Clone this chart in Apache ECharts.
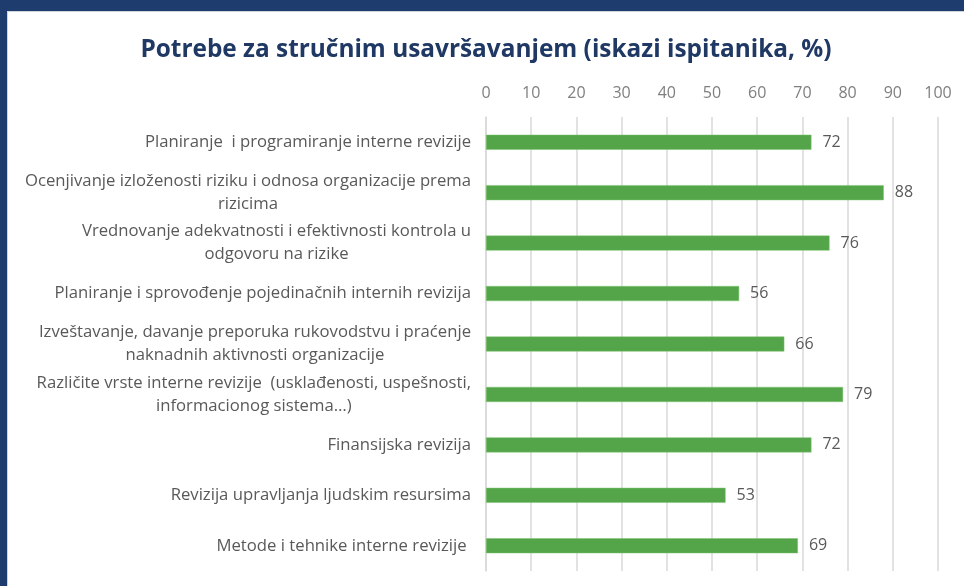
<!DOCTYPE html>
<html>
<head>
<meta charset="utf-8">
<script src="https://cdn.jsdelivr.net/npm/echarts@6/dist/echarts.min.js"></script>
<style>
  html, body { margin: 0; padding: 0; }
  body { width: 964px; height: 586px; background: #1f3c6f; position: relative; overflow: hidden; }
  #main {
    position: absolute; left: 7px; top: 11px;
    width: 956px; height: 574px;
    background: #fff; border-left: 1px solid #cfd3da; border-top: 1px solid #cfd3da;
  }
</style>
</head>
<body>
<div id="main"></div>
<script>
const categories = [
  'Planiranje  i programiranje interne revizije',
  'Ocenjivanje izloženosti riziku i odnosa organizacije prema\nrizicima',
  'Vrednovanje adekvatnosti i efektivnosti kontrola u\nodgovoru na rizike',
  'Planiranje i sprovođenje pojedinačnih internih revizija',
  'Izveštavanje, davanje preporuka rukovodstvu i praćenje\nnaknadnih aktivnosti organizacije',
  'Različite vrste interne revizije  (usklađenosti, uspešnosti,\ninformacionog sistema…)',
  'Finansijska revizija',
  'Revizija upravljanja ljudskim resursima',
  'Metode i tehnike interne revizije '
];
const values = [72, 88, 76, 56, 66, 79, 72, 53, 69];

const chart = echarts.init(document.getElementById('main'));
const option = {
  animation: false,
  title: {
    text: 'Potrebe za stručnim usavršavanjem (iskazi ispitanika, %)',
    left: 'center',
    top: 26,
    padding: 0,
    textStyle: {
      fontFamily: 'Open Sans',
      fontWeight: 'bold',
      fontSize: 24.4,
      color: '#1f3864'
    }
  },
  grid: {
    left: 478,
    right: 26,
    top: 105,
    bottom: 15
  },
  xAxis: {
    type: 'value',
    position: 'top',
    min: 0,
    max: 100,
    interval: 10,
    axisLine: { show: false },
    axisTick: { show: false },
    axisLabel: {
      margin: 16,
      fontFamily: 'Open Sans',
      fontSize: 16,
      color: '#7f7f7f'
    },
    splitLine: { lineStyle: { color: '#d9d9d9', width: 1.5 } }
  },
  yAxis: {
    type: 'category',
    inverse: true,
    data: categories,
    axisLine: { lineStyle: { color: '#d9d9d9', width: 1.5 } },
    axisTick: { show: false },
    axisLabel: {
      margin: 15,
      formatter: v => '{c|' + v + '}',
      rich: {
        c: {
          align: 'center',
          fontFamily: 'Open Sans',
          fontSize: 16.7,
          lineHeight: 23,
          color: '#595959'
        }
      }
    }
  },
  series: [{
    type: 'bar',
    data: values,
    barWidth: 15,
    itemStyle: { color: '#54a44a', borderColor: '#7cc46f', borderWidth: 0.5 },
    label: {
      show: true,
      position: 'right',
      distance: 11,
      fontFamily: 'Open Sans',
      fontSize: 16,
      color: '#595959'
    }
  }]
};
chart.setOption(option);
</script>
</body>
</html>
